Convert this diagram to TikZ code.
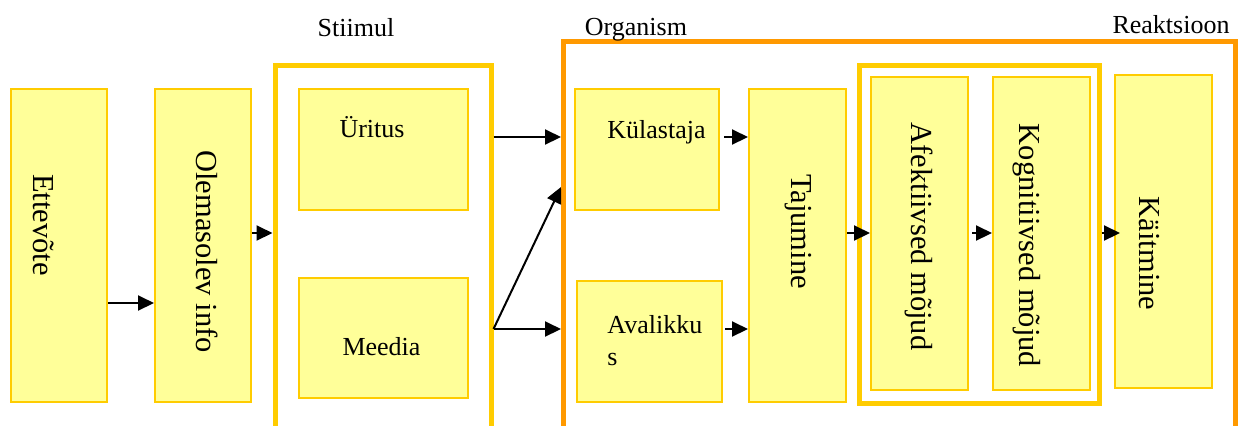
\documentclass[tikz,border=0pt]{standalone}
\usepackage{fontspec}
\setmainfont{Liberation Serif}
\usetikzlibrary{arrows.meta,fit}

\definecolor{boxfill}{HTML}{FFFF99}
\definecolor{boxline}{HTML}{FFCC00}
\definecolor{frameyellow}{HTML}{FFCC00}
\definecolor{frameorange}{HTML}{FF9900}

\tikzset{
  ybox/.style={draw=boxline, fill=boxfill, line width=1pt, inner sep=0pt, rectangle},
  frameY/.style={draw=frameyellow, line width=2.5pt, inner sep=0pt, rectangle},
  frameO/.style={draw=frameorange, line width=2.5pt, inner sep=0pt, rectangle},
  htext/.style={font=\fontsize{13pt}{16pt}\selectfont, inner sep=0pt, anchor=base},
  vtext/.style={font=\fontsize{15.25pt}{18pt}\selectfont, inner sep=0pt, rotate=-90, anchor=base},
  arr/.style={-{Triangle[length=8pt,width=7.5pt]}, line width=1pt, draw=black},
}

\begin{document}
\begin{tikzpicture}[x=0.5pt,y=-0.5pt]
  \useasboundingbox (0,0) rectangle (1245,425);
  \clip (0,0) rectangle (1245,425);

  % group frames
  \node[frameY, fit={(275,65.5) (491,445)}] (stiimul) {};
  \node[frameO, fit={(563.5,41.7) (1235.5,445)}] (organism) {};
  \node[frameY, fit={(859.5,65.5) (1099,403)}] (mojud) {};

  % group titles
  \node[htext] (tstiimul) at (356,36.5) {Stiimul};
  \node[htext] (torganism) at (636,35) {Organism};
  \node[htext] (treakt) at (1171,33.5) {Reaktsioon};

  % boxes
  \node[ybox, fit={(11,89) (107,402)}] (ett) {};
  \node[ybox, fit={(155,89) (251,402)}] (ole) {};
  \node[ybox, fit={(299,89) (468,210)}] (uri) {};
  \node[ybox, fit={(299,278) (468,398)}] (mee) {};
  \node[ybox, fit={(575,89) (719,210)}] (kul) {};
  \node[ybox, fit={(577,281) (722,402)}] (ava) {};
  \node[ybox, fit={(749,89) (846,402)}] (taj) {};
  \node[ybox, fit={(871,77) (968,390)}] (afe) {};
  \node[ybox, fit={(993,77) (1090,390)}] (kog) {};
  \node[ybox, fit={(1115,75) (1212,388)}] (kai) {};

  % box labels
  \node[vtext] (lett) at (33,225) {Ettevõte};
  \node[vtext] (lole) at (196,251.5) {Olemasolev info};
  \node[htext] (luri) at (372,137) {Üritus};
  \node[htext] (lmee) at (381.5,355) {Meedia};
  \node[htext] (lkul) at (656.5,138) {Külastaja};
  % two-line label: the base anchor sits on the last line
  \node[htext, anchor=base west, align=left] (lava) at (607,365) {Avalikku\\s};
  \node[vtext] (ltaj) at (791,231.5) {Tajumine};
  \node[vtext] (lafe) at (911,236.5) {Afektiivsed mõjud};
  \node[vtext] (lkog) at (1019,245.5) {Kognitiivsed mõjud};
  \node[vtext] (lkai) at (1139,253.5) {Käitmine};

  % arrow rows
  \coordinate (r137) at (0,137);
  \coordinate (r187) at (0,187);
  \coordinate (r233) at (0,233);
  \coordinate (r303) at (0,303);
  \coordinate (r329) at (0,329);

  % connectors
  \draw[arr] (ett.east |- r303) -- (ole.west |- r303);
  \draw[arr] (ole.east |- r233) -- (stiimul.west |- r233);
  \draw[arr] (stiimul.east |- r137) -- (organism.west |- r137);
  \draw[arr] (stiimul.east |- r329) -- (organism.west |- r329);
  \draw[arr] (stiimul.east |- r329) -- (organism.west |- r187);
  \draw[arr] ([xshift=2pt]kul.east |- r137) -- (taj.west |- r137);
  \draw[arr] ([xshift=1pt]ava.east |- r329) -- (taj.west |- r329);
  \draw[arr] (taj.east |- r233) -- (afe.west |- r233);
  \draw[arr] ([xshift=1.5pt]afe.east |- r233) -- (kog.west |- r233);
  \draw[arr] (mojud.east |- r233) -- ([xshift=3pt]kai.west |- r233);
\end{tikzpicture}
\end{document}
